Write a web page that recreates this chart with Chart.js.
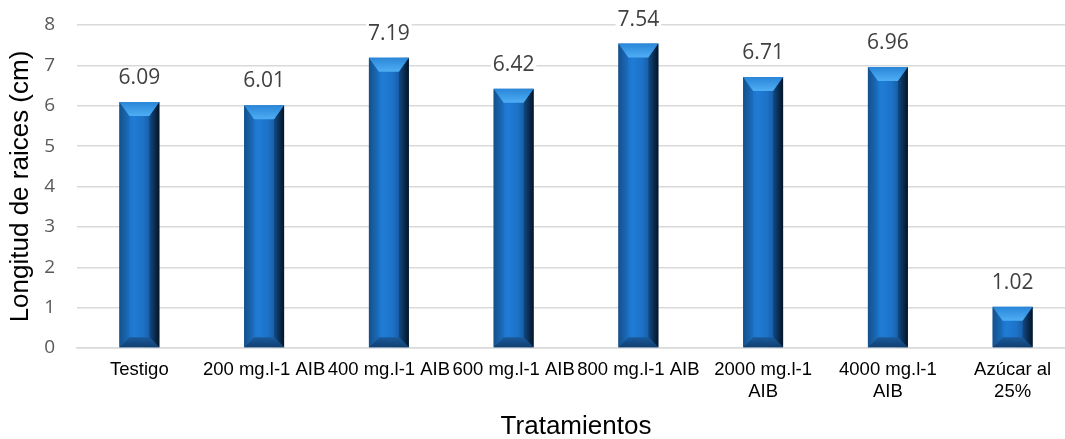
<!DOCTYPE html>
<html>
<head>
<meta charset="utf-8">
<script src="https://cdn.jsdelivr.net/npm/chart.js@4.4.0/dist/chart.umd.min.js"></script>
<style>
  html, body { margin:0; padding:0; background:#fff; overflow:hidden; }
  #wrap { width:1075px; height:439px; position:relative; }
</style>
</head>
<body>
<div id="wrap"><canvas id="chart"></canvas></div>
<script>
// ---- data ----
const categories = [
  'Testigo',
  '200 mg.l-1 AIB',
  '400 mg.l-1 AIB',
  '600 mg.l-1 AIB',
  '800 mg.l-1 AIB',
  ['2000 mg.l-1', 'AIB'],
  ['4000 mg.l-1', 'AIB'],
  ['Azúcar al', '25%'],
];
const longitudRaices = [6.09, 6.01, 7.19, 6.42, 7.54, 6.71, 6.96, 1.02];
const yTicks = [0, 1, 2, 3, 4, 5, 6, 7, 8];

// fill a polygon
function poly(ctx, pts, fill) {
  ctx.beginPath();
  ctx.moveTo(pts[0][0], pts[0][1]);
  for (let i = 1; i < pts.length; i++) ctx.lineTo(pts[i][0], pts[i][1]);
  ctx.closePath();
  ctx.fillStyle = fill;
  ctx.fill();
}

// bevelled "3D" columns
const bevelBars = {
  id: 'bevelBars',
  afterDatasetsDraw(chart) {
    const ctx = chart.ctx;
    chart.getDatasetMeta(0).data.forEach(bar => {
      const { x, y, base, width } = bar.getProps(['x', 'y', 'base', 'width'], true);
      const l = x - width / 2, r = x + width / 2, t = y, b = base;
      const h = b - t;
      const dt = Math.min(14, h / 2.5), db = Math.min(10, h / 3.5), ds = 10;
      ctx.save();

      // face
      let g = ctx.createLinearGradient(l, 0, r, 0);
      g.addColorStop(0, '#15528f');
      g.addColorStop(0.08, '#1a68b8');
      g.addColorStop(0.35, '#1f7cd5');
      g.addColorStop(0.6, '#1d72c7');
      g.addColorStop(0.78, '#175ca4');
      g.addColorStop(1, '#0c345e');
      ctx.fillStyle = g;
      ctx.fillRect(l, t, r - l, h);

      // right edge, darkening outwards
      g = ctx.createLinearGradient(r - ds, 0, r, 0);
      g.addColorStop(0, '#124a84');
      g.addColorStop(1, '#031426');
      poly(ctx, [[r, t], [r - ds, t + dt], [r - ds, b - db], [r, b]], g);
      // left edge
      g = ctx.createLinearGradient(l, 0, l + ds, 0);
      g.addColorStop(0, '#14508c');
      g.addColorStop(1, '#1b6ebf');
      poly(ctx, [[l, t], [l + ds, t + dt], [l + ds, b - db], [l, b]], g);
      // top edge
      g = ctx.createLinearGradient(0, t, 0, t + dt);
      g.addColorStop(0, '#2a86d8');
      g.addColorStop(1, '#4eaef4');
      poly(ctx, [[l, t], [r, t], [r - ds, t + dt], [l + ds, t + dt]], g);
      // bottom edge
      g = ctx.createLinearGradient(0, b - db, 0, b);
      g.addColorStop(0, '#1a5a9c');
      g.addColorStop(1, '#113f70');
      poly(ctx, [[l, b], [r, b], [r - ds, b - db], [l + ds, b - db]], g);

      ctx.restore();
    });
  }
};

// value labels above each column, on a white box
const valueLabels = {
  id: 'valueLabels',
  afterDatasetsDraw(chart) {
    const ctx = chart.ctx;
    ctx.save();
    ctx.font = '21px "Open Sans"';
    ctx.textAlign = 'center';
    ctx.textBaseline = 'middle';
    chart.getDatasetMeta(0).data.forEach((bar, i) => {
      const txt = longitudRaices[i].toFixed(2);
      const w = ctx.measureText(txt).width;
      const cy = bar.y - 24;
      ctx.fillStyle = '#fff';
      ctx.fillRect(bar.x - w / 2 - 2, cy - 11, w + 4, 22);
      ctx.fillStyle = '#404040';
      ctx.fillText(txt, bar.x, cy);
    });
    ctx.restore();
  }
};

new Chart(document.getElementById('chart'), {
  type: 'bar',
  data: {
    labels: categories,
    datasets: [{
      data: longitudRaices,
      backgroundColor: 'rgba(0,0,0,0)',
      borderWidth: 0,
      categoryPercentage: 1,
      barPercentage: 0.32,
    }]
  },
  plugins: [bevelBars, valueLabels],
  options: {
    responsive: true,
    maintainAspectRatio: false,
    animation: false,
    layout: { padding: { top: 25, left: 0, right: 0, bottom: 0 } },
    plugins: { legend: { display: false }, tooltip: { enabled: false } },
    scales: {
      x: {
        grid: { display: false, drawTicks: false },
        border: { display: true, color: '#d9d9d9', width: 1.5 },
        ticks: {
          color: '#000',
          font: { family: '"Liberation Sans", Arial', size: 18.5, lineHeight: 1.2 },
          padding: 11,
          autoSkip: false,
          maxRotation: 0,
          minRotation: 0,
        },
        title: {
          display: true,
          text: 'Tratamientos',
          color: '#000',
          font: { family: '"Liberation Sans", Arial', size: 26, lineHeight: 0.85 },
          padding: { top: 0, bottom: 1 },
        },
        afterFit: s => { s.height = 91; },
      },
      y: {
        min: 0,
        max: 8,
        afterBuildTicks: s => { s.ticks = yTicks.map(v => ({ value: v })); },
        grid: { color: '#d9d9d9', lineWidth: 1.5, drawTicks: true, tickLength: 22, tickColor: 'rgba(0,0,0,0)' },
        border: { display: false },
        ticks: {
          color: '#595959',
          font: { family: '"Open Sans"', size: 19 },
          padding: 0,
        },
        title: {
          display: true,
          text: 'Longitud de raices (cm)',
          color: '#000',
          font: { family: '"Liberation Sans", Arial', size: 26, lineHeight: 1 },
          padding: { top: 8, bottom: 0 },
        },
        afterFit: s => { s.width = 77; },
      }
    }
  }
});
</script>
</body>
</html>
